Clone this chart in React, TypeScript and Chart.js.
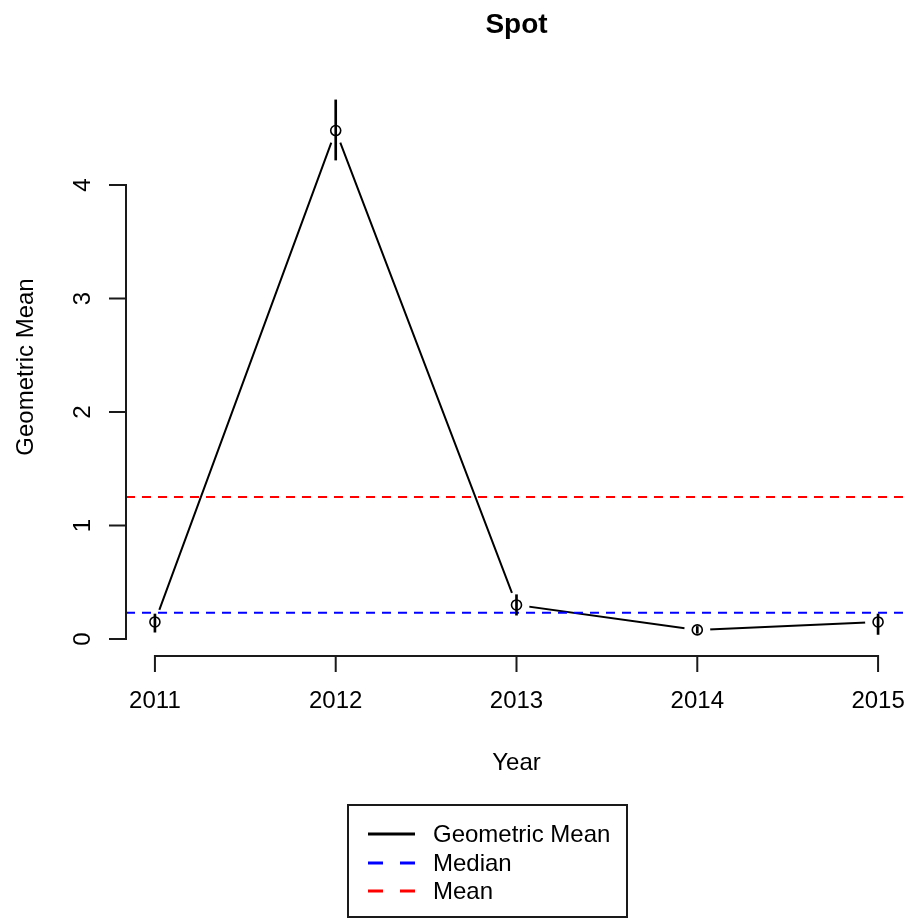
import React, { useEffect, useRef } from "react";
import { Chart, registerables } from "chart.js";

Chart.register(...registerables);

// Yearly geometric mean with its interval, plus the overall median and mean
const years = [2011, 2012, 2013, 2014, 2015];
const geoMean = [0.15, 4.48, 0.3, 0.08, 0.15];
const lowerCI = [0.06, 4.22, 0.21, 0.05, 0.04];
const upperCI = [0.22, 4.75, 0.39, 0.11, 0.22];
const medianValue = 0.23;
const meanValue = 1.25;

const xTicks = [2011, 2012, 2013, 2014, 2015];
const yTicks = [0, 1, 2, 3, 4];

const titleText = "Spot";
const xTitle = "Year";
const yTitle = "Geometric Mean";
const legendLabels = ["Geometric Mean", "Median", "Mean"];

const X_MIN = 2010.84;
const X_MAX = 2015.16;
const Y_MIN = -0.15;
const Y_MAX = 4.943;

const FONT = "'Liberation Sans', Arial, sans-serif";
const AXIS_COLOR = "#1a1a1a";

// Base-graphics style axes, titles and a boxed legend below the plot
const decorPlugin = {
  id: "rDecor",
  afterDraw(chart: any) {
    const ctx = chart.ctx as CanvasRenderingContext2D;
    const xs = chart.scales.x;
    const ys = chart.scales.y;
    const area = chart.chartArea;
    const tick = 16;
    ctx.save();
    ctx.strokeStyle = AXIS_COLOR;
    ctx.fillStyle = "#000";
    ctx.lineWidth = 2;
    ctx.lineCap = "butt";

    // x axis
    const xAxisY = area.bottom;
    const x0 = xs.getPixelForValue(xTicks[0]);
    const x1 = xs.getPixelForValue(xTicks[xTicks.length - 1]);
    ctx.beginPath();
    ctx.moveTo(x0, xAxisY);
    ctx.lineTo(x1, xAxisY);
    xTicks.forEach((t) => {
      const px = xs.getPixelForValue(t);
      ctx.moveTo(px, xAxisY - 1);
      ctx.lineTo(px, xAxisY + tick);
    });
    ctx.stroke();
    ctx.font = `24px ${FONT}`;
    ctx.textAlign = "center";
    ctx.textBaseline = "alphabetic";
    xTicks.forEach((t) => {
      ctx.fillText(String(t), xs.getPixelForValue(t), 708);
    });

    // y axis
    const yAxisX = area.left;
    const yA = ys.getPixelForValue(yTicks[0]);
    const yB = ys.getPixelForValue(yTicks[yTicks.length - 1]);
    ctx.beginPath();
    ctx.moveTo(yAxisX, yA);
    ctx.lineTo(yAxisX, yB);
    yTicks.forEach((t) => {
      const py = ys.getPixelForValue(t);
      ctx.moveTo(yAxisX + 1, py);
      ctx.lineTo(yAxisX - tick - 1, py);
    });
    ctx.stroke();
    yTicks.forEach((t) => {
      const py = ys.getPixelForValue(t);
      ctx.save();
      ctx.translate(90, py);
      ctx.rotate(-Math.PI / 2);
      ctx.textAlign = "center";
      ctx.fillText(String(t), 0, 0);
      ctx.restore();
    });

    // titles
    const cx = (area.left + area.right) / 2;
    const cy = (area.top + area.bottom) / 2;
    ctx.font = `bold 28px ${FONT}`;
    ctx.textAlign = "center";
    ctx.fillText(titleText, cx, 33);
    ctx.font = `24px ${FONT}`;
    ctx.fillText(xTitle, cx, 770);
    ctx.save();
    ctx.translate(33, cy);
    ctx.rotate(-Math.PI / 2);
    ctx.fillText(yTitle, 0, 0);
    ctx.restore();

    // legend
    const bx = 348, by = 805, bw = 279, bh = 112;
    ctx.lineWidth = 2;
    ctx.strokeStyle = AXIS_COLOR;
    ctx.strokeRect(bx, by, bw, bh);
    const rows = [
      { color: "#000000", dash: [] as number[] },
      { color: "#0000FF", dash: [15, 17] },
      { color: "#FF0000", dash: [15, 17] },
    ];
    const rowY = [834, 863, 891];
    rows.forEach((r, i) => {
      ctx.beginPath();
      ctx.strokeStyle = r.color;
      ctx.lineWidth = 3;
      ctx.setLineDash(r.dash);
      ctx.moveTo(368, rowY[i]);
      ctx.lineTo(415, rowY[i]);
      ctx.stroke();
      ctx.setLineDash([]);
      ctx.fillStyle = "#000";
      ctx.font = `24px ${FONT}`;
      ctx.textAlign = "left";
      ctx.textBaseline = "middle";
      ctx.fillText(legendLabels[i], 433, rowY[i] + 1);
    });
    ctx.restore();
  },
};

export default function App() {
  const canvasRef = useRef<HTMLCanvasElement | null>(null);

  useEffect(() => {
    document.body.style.margin = "0";
    const canvas = canvasRef.current;
    if (!canvas) return;

    const pts = (vals: number[]) => years.map((yr, i) => ({ x: yr, y: vals[i] }));
    const hline = (v: number) => [
      { x: X_MIN, y: v },
      { x: X_MAX, y: v },
    ];

    const chart = new Chart(canvas, {
      type: "line",
      data: {
        datasets: [
          {
            // interval bars
            type: "bar",
            label: "interval",
            data: years.map((yr, i) => ({ x: yr, y: [lowerCI[i], upperCI[i]] })) as any,
            backgroundColor: "#000",
            borderWidth: 0,
            barThickness: 2,
            grouped: false,
          } as any,
          {
            // open circle markers
            type: "line",
            label: "points",
            data: pts(geoMean),
            showLine: false,
            pointStyle: "circle",
            pointRadius: 5,
            pointBorderWidth: 1.6,
            pointBorderColor: "#000",
            pointBackgroundColor: "rgba(0,0,0,0)",
          },
          {
            type: "line",
            label: legendLabels[1],
            data: hline(medianValue),
            borderColor: "#0000FF",
            borderWidth: 2,
            borderDash: [9, 7],
            pointRadius: 0,
          },
          {
            type: "line",
            label: legendLabels[2],
            data: hline(meanValue),
            borderColor: "#FF0000",
            borderWidth: 2,
            borderDash: [9, 7],
            pointRadius: 0,
          },
          {
            // connecting line, broken around each marker
            type: "line",
            label: legendLabels[0],
            data: pts(geoMean),
            borderColor: "#000",
            borderWidth: 2,
            tension: 0,
            pointRadius: 13,
            pointBorderWidth: 0,
            pointBackgroundColor: "#FFFFFF",
            pointBorderColor: "#FFFFFF",
          },
        ],
      },
      options: {
        animation: false,
        responsive: false,
        maintainAspectRatio: false,
        events: [],
        layout: { autoPadding: false, padding: { left: 126, right: 1, top: 78, bottom: 263 } },
        plugins: {
          legend: { display: false },
          tooltip: { enabled: false },
          title: { display: false },
        },
        scales: {
          x: { type: "linear", min: X_MIN, max: X_MAX, display: false, offset: false },
          y: { type: "linear", min: Y_MIN, max: Y_MAX, display: false },
        },
      },
      plugins: [decorPlugin],
    });

    return () => chart.destroy();
  }, []);

  return (
    <div style={{ width: 908, height: 919, background: "#fff" }}>
      <canvas ref={canvasRef} width={908} height={919} style={{ display: "block" }} />
    </div>
  );
}
